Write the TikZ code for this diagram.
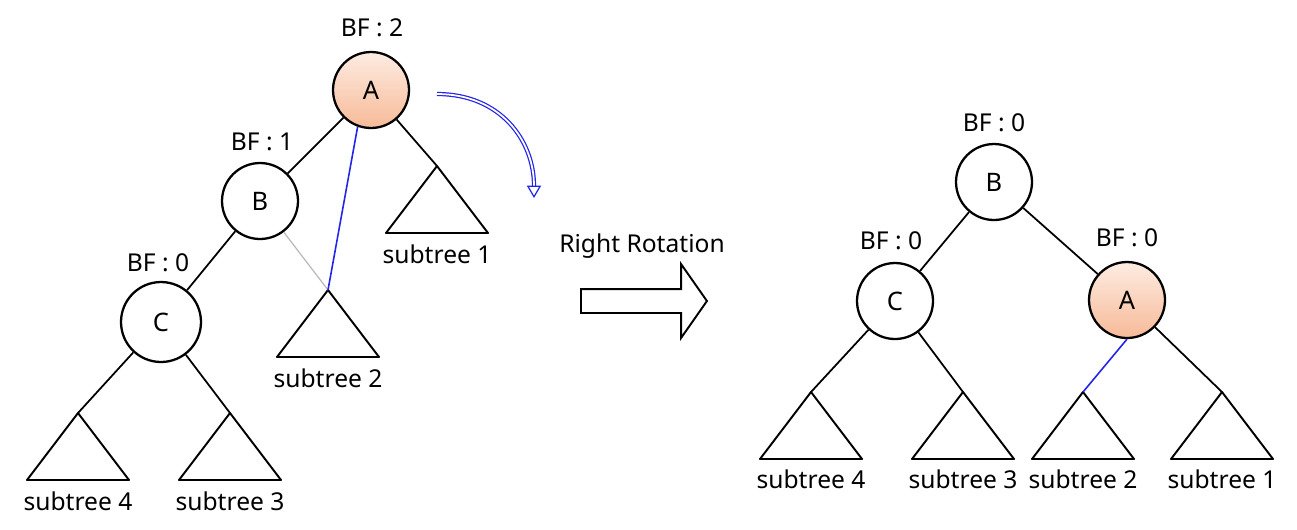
\documentclass[tikz,border=0pt]{standalone}
\usepackage{fontspec}
\setmainfont{Noto Sans}
\usetikzlibrary{arrows.meta,shapes.arrows}

\definecolor{peachlight}{RGB}{253,236,226}
\definecolor{peachdark}{RGB}{247,186,152}
\definecolor{rotblue}{RGB}{35,35,235}

\tikzset{
  vertex/.style={circle, draw, line width=1.3pt, minimum size=1.52cm, inner sep=0pt, font=\fontsize{14.5}{16}\selectfont},
  heavy/.style={vertex, top color=peachlight, bottom color=peachdark},
  bf/.style={anchor=base, font=\fontsize{14}{16}\selectfont},
  edge/.style={line width=1pt},
  subtree/.style={line width=1.1pt, line join=round},
  moved/.style={rotblue, line width=0.9pt},
}

\begin{document}
\begin{tikzpicture}[x=0.02cm, y=-0.02cm]

  \useasboundingbox (0,0) rectangle (1297,529);

  % before the rotation
  \node[heavy] (A) at (371,90) {A};
  \node[vertex] (B) at (260,201) {B};
  \node[vertex, minimum size=1.6cm] (C) at (161,322) {C};

  \node[bf] (bfA) at (372,36) {BF : 2};
  \node[bf] (bfB) at (262,150) {BF : 1};
  \node[bf] (bfC) at (158,271) {BF : 0};

  \foreach \n/\x/\y/\t in {t1/437/166/1, t2/328/290/2, t4/78/413/4, t3/230/413/3}
  {
    \coordinate (\n) at (\x,\y);
    \draw[subtree] (\n) -- ++(-51,67) -- ++(102,0) -- cycle;
    \node[bf] (\n lbl) at (\x,\y+97) {subtree \t};
  }

  \draw[edge] (A) -- (B);
  \draw[edge] (A) -- (t1);
  \draw[edge] (B) -- (C);
  \draw[edge] (C) -- (t4);
  \draw[edge] (C) -- (t3);
  \draw[edge, gray!55, line width=0.7pt] (B) -- (t2);
  \draw[moved] (A.-110) -- (t2);

  % turn arrow
  \coordinate (turnfrom) at (437,94);
  \coordinate (turnto) at (534,198);
  \draw[moved, line width=0.7pt, double, double distance=1pt, -{Triangle[open, length=7pt, width=8pt]}]
    (turnfrom) .. controls (500,94) and (534,140) .. (turnto);

  \node[bf] (rot) at (642,252) {Right Rotation};
  \node[single arrow, draw, line width=1.1pt, inner sep=0.22cm, minimum height=2.52cm,
    single arrow head extend=0.5cm, single arrow tip angle=110, anchor=tail] (push) at (580,301) {};

  % after the rotation
  \node[vertex] (Br) at (994,182) {B};
  \node[vertex] (Cr) at (895,301) {C};
  \node[heavy] (Ar) at (1127,300) {A};

  \node[bf] (bfBr) at (994,131) {BF : 0};
  \node[bf] (bfCr) at (891,249) {BF : 0};
  \node[bf] (bfAr) at (1127,246) {BF : 0};

  \foreach \n/\x/\t in {u4/811/4, u3/963/3, u2/1083/2, u1/1222/1}
  {
    \coordinate (\n) at (\x,392);
    \draw[subtree] (\n) -- ++(-51,67) -- ++(102,0) -- cycle;
    \node[bf] (\n lbl) at (\x,488) {subtree \t};
  }

  \draw[edge] (Br) -- (Cr);
  \draw[edge] (Br) -- (Ar);
  \draw[edge] (Cr) -- (u4);
  \draw[edge] (Cr) -- (u3);
  \draw[edge] (Ar) -- (u1);
  \draw[moved] (Ar.south) -- (u2);

\end{tikzpicture}
\end{document}
